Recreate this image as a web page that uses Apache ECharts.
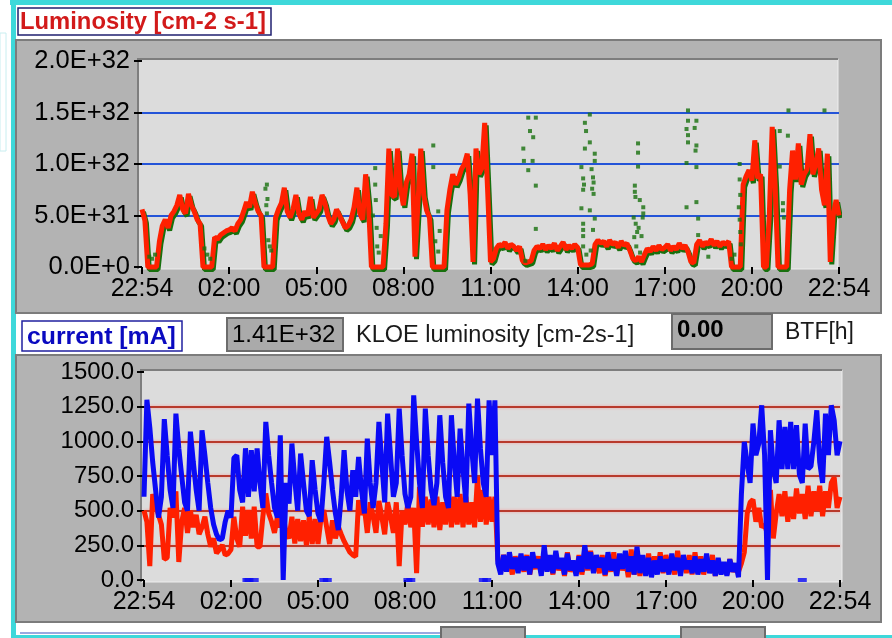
<!DOCTYPE html>
<html>
<head>
<meta charset="utf-8">
<script src="https://cdn.jsdelivr.net/npm/echarts@6/dist/echarts.min.js"></script>
<style>
html,body{margin:0;padding:0;background:#fff;}
#c{width:892px;height:638px;}
</style>
</head>
<body>
<div id="c"></div>
<script>
// ---------------- DATA ----------------
// time axis: hours elapsed since 22:54, sampled every 0.1 h (241 samples)
const timeLabels = ['22:54','02:00','05:00','08:00','11:00','14:00','17:00','20:00','22:54'];
const lumTickLabels = ['0.0E+0','5.0E+31','1.0E+32','1.5E+32','2.0E+32'];
const curTickLabels = ['0.0','250.0','500.0','750.0','1000.0','1250.0','1500.0'];

// DAFNE luminosity, units of 1E31 cm-2 s-1
const lumE31 = [
 5.6,4.5,0,0,0,0,2.5,4.0,4.6,3.8,
 5.0,5.4,6.0,7.0,5.6,5.2,7.1,6.0,5.4,4.6,
 4.2,0,0,0,0,2.9,2.7,3.1,3.3,3.5,
 3.6,3.8,3.5,4.2,4.6,5.4,6.3,5.8,7.3,6.2,
 5.4,5.0,0,0,0,0,4.8,5.6,6.2,7.7,
 5.4,4.8,5.6,7.0,5.2,4.6,5.4,5.0,6.8,4.8,
 5.2,5.6,7.0,6.2,5.0,4.2,4.6,5.6,5.0,4.4,
 3.8,4.0,4.6,5.8,7.7,5.2,4.6,9.0,6.0,0,
 0,0,0,0,4.2,11.5,7.0,6.8,11.5,7.6,
 6.0,8.2,9.0,11.0,1.0,6.0,11.5,7.0,5.5,4.8,
 0,0,0,0,0,5.5,7.5,9.0,8.0,8.6,
 9.5,10.0,11.0,7.0,0.5,11.5,9.0,9.6,14.0,7.5,
 0.5,0.8,1.8,2.2,2.0,2.4,1.8,2.2,2.0,1.6,
 2.0,0.6,0.4,0.5,0.6,1.6,2.0,1.8,2.2,1.7,
 2.1,1.8,2.3,1.6,2.0,2.4,1.7,2.1,1.8,2.2,
 1.9,0.2,0.2,0.2,0.2,0.3,2.2,2.6,2.3,2.5,
 2.0,2.6,2.2,2.4,1.9,2.5,2.1,2.3,1.6,0.8,
 0.6,1.0,0.5,1.2,1.8,1.5,2.0,1.6,2.1,1.7,
 1.9,2.2,1.6,2.0,1.7,2.3,1.8,2.1,1.5,0.5,
 0.4,2.2,2.6,2.0,2.4,2.2,2.7,2.1,2.5,2.0,
 2.4,2.2,2.5,0,0,0,0,8.0,8.8,9.4,
 8.4,12.3,8.6,9.0,0,0,5.0,13.6,8.0,0,
 0,0,0,7.5,11.3,8.5,12.0,8.0,9.0,9.5,
 12.9,9.0,10.0,11.5,7.5,6.0,11.0,0.5,5.0,6.5,
 5.0
];

// KLOE luminosity readings that stand apart from the DAFNE trace [hour, 1E31]
const kloeOutliers = [
 [0.25,1.0],[0.35,0.8],[0.45,1.2],[2.15,1.8],[2.25,1.2],[2.35,0.8],
 [4.25,7.6],[4.3,8.0],[4.28,6.0],[4.3,5.2],[4.32,6.6],[4.35,2.6],[4.4,2.0],[4.45,1.6],
 [7.95,5.0],[8.03,9.6],[8.03,8.0],[8.05,6.5],[8.08,3.8],[8.1,2.0],[8.15,1.4],[8.22,3.0],
 [10.03,11.8],[10.03,9.7],[10.1,2.5],[10.2,1.5],[10.2,5.4],[10.25,3.5],
 [13.3,14.5],[13.56,14.5],[13.36,13.2],[13.47,12.6],[13.13,11.5],[13.15,10.3],[13.45,10.3],
 [13.3,9.4],[13.56,7.9],[13.56,3.7],[13.2,0.6],
 [15.42,14.8],[15.25,14.0],[15.29,13.2],[15.42,12.1],[15.25,11.5],[15.59,11.0],[15.59,10.3],
 [15.13,9.7],[15.48,9.5],[15.19,8.6],[15.22,8.0],[15.19,7.5],[15.53,8.7],[15.55,8.2],
 [15.5,7.6],[15.55,7.1],[15.13,5.7],[15.42,5.5],[15.59,4.7],[15.19,4.2],[15.19,3.6],
 [15.19,3.0],[15.53,3.6],[15.19,2.0],[15.3,1.2],[15.45,1.6],
 [17.08,12.0],[17.08,11.1],[17.08,9.75],[16.97,7.9],[16.97,7.3],[16.99,6.8],[17.14,6.5],
 [17.26,5.8],[17.26,5.2],[17.24,4.8],[16.93,4.8],[17.0,4.2],[17.1,3.8],[17.05,3.4],
 [17.2,3.0],[16.95,2.9],[17.02,2.0],[17.15,1.4],
 [18.8,15.2],[18.8,14.2],[19.09,14.2],[18.75,13.4],[19.03,13.5],[18.8,12.8],[18.8,12.1],
 [19.09,11.8],[19.06,11.3],[18.75,10.1],[19.09,9.7],[18.75,5.8],[19.09,6.3],[19.15,4.7],[19.15,3.1],
 [19.5,1.0],[20.3,0.8],[20.4,1.2],
 [20.58,10.0],[20.58,8.5],[20.6,7.0],[20.55,5.8],[20.58,4.6],[20.6,3.4],[20.62,2.2],
 [21.96,13.2],[22.24,12.75],[21.96,9.75],[22.07,6.2],[22.07,5.5],[22.1,4.8],
 [22.26,15.2],[23.5,15.2]
];

// beam currents, mA
const blueCur = [
 600,1300,1100,850,650,450,600,1160,900,650,
 520,1200,950,750,560,500,1070,850,650,500,
 1080,900,700,520,400,330,290,300,420,500,
 450,880,900,650,560,950,600,936,640,948,
 700,520,1140,900,700,520,450,1044,0,700,
 550,984,720,500,912,700,500,460,864,650,
 480,420,700,1032,850,650,480,360,600,936,
 640,500,792,600,888,650,480,1020,700,520,
 700,1140,850,560,1200,900,600,700,1236,900,
 620,520,600,1332,1000,700,520,1236,900,650,
 540,700,1188,850,600,520,1188,850,600,1092,
 800,560,1272,950,700,1308,950,700,600,1296,
 900,1296,120,40,180,60,200,80,160,50,
 190,70,170,40,200,90,150,30,250,60,
 180,50,210,80,160,40,190,70,140,30,
 170,60,250,80,200,50,180,90,160,40,
 200,70,150,30,190,80,210,60,170,40,
 240,50,180,30,160,20,140,40,170,60,
 150,40,190,70,160,30,180,80,140,50,
 170,40,150,60,190,50,140,30,160,40,
 130,30,150,60,120,20,620,996,840,700,
 1128,900,984,1260,900,0,1080,800,700,1152,
 800,1104,800,1140,800,1116,760,700,1128,800,
 820,1000,1224,850,700,1200,900,1260,1150,900,
 1000
];
const redCur = [
 500,420,100,620,540,470,400,150,160,520,
 450,640,130,420,520,340,500,380,470,330,
 380,456,330,240,300,192,220,252,180,190,
 220,456,300,240,528,320,504,300,528,240,
 240,460,624,480,420,340,456,380,460,340,
 300,456,264,440,280,430,250,460,260,440,
 260,440,504,380,260,430,300,384,330,280,
 240,200,180,168,576,470,520,340,560,460,
 340,570,456,330,560,460,340,560,100,500,
 400,560,380,520,50,672,384,600,400,580,
 380,600,360,560,400,640,380,600,400,620,
 380,600,400,560,380,744,420,650,400,600,
 420,600,150,60,180,80,140,40,170,90,
 150,60,180,40,140,80,170,50,200,70,
 160,40,190,70,150,30,200,60,130,50,
 180,40,160,70,210,60,140,50,180,30,
 140,60,200,40,170,70,150,20,220,40,
 160,30,150,60,190,40,170,60,200,50,
 180,60,150,40,210,70,160,50,180,40,
 200,50,170,40,150,60,180,30,140,60,
 120,40,150,60,100,60,120,200,480,560,
 580,420,520,380,400,330,650,300,480,620,
 460,640,420,600,440,660,480,620,440,680,
 460,640,500,680,460,640,520,700,740,520,
 600
];
// isolated zero readings of the blue beam [hour, mA]
const blueZero = [[3.55,0],[3.62,0],[3.8,0],[6.2,0],[6.32,0],[9.1,0],[9.2,0],[11.7,0],[11.82,0],[22.7,0]];

const kloeValue = '1.41E+32';
const btfValue = '0.00';

// ---------------- BUILD ----------------
const step = 0.1;
const pairs = arr => arr.map((v,i) => [Math.round(i*step*10)/10, v]);

const FONT = "'Liberation Sans', Arial, Helvetica, sans-serif";
const RED = '#ff2000', BLUE = '#0a0af5', GREEN = '#18700e';

function xAxis(gridIndex){
  return {
    type:'value', gridIndex, min:0, max:24, interval:3,
    offset:3,
    axisLine:{show:false},
    axisTick:{show:true, length:7, lineStyle:{color:'#000', width:2}},
    splitLine:{show:false},
    axisLabel:{margin:7, color:'#000', fontSize:25, fontFamily:FONT,
      formatter: v => timeLabels[Math.round(v/3)]}
  };
}

const chart = echarts.init(document.getElementById('c'), null, {renderer:'canvas'});
const option = {
  animation:false,
  backgroundColor:'#ffffff',
  grid:[
    {left:142, top:61, width:697, height:206},
    {left:144, top:372, width:696, height:208}
  ],
  xAxis:[xAxis(0), xAxis(1)],
  yAxis:[
    {type:'value', gridIndex:0, min:0, max:20, interval:5, offset:4,
     axisLine:{show:false},
     axisTick:{show:true, length:8, lineStyle:{color:'#000', width:2}},
     axisLabel:{margin:8, color:'#000', fontSize:25.5, fontFamily:FONT,
       formatter: v => lumTickLabels[Math.round(v/5)]},
     splitLine:{show:true, lineStyle:{width:2,
       color:['rgba(0,0,0,0)','#2454d8','#2454d8','#2454d8','rgba(0,0,0,0)']}}},
    {type:'value', gridIndex:1, min:0, max:1500, interval:250, offset:3,
     axisLine:{show:false},
     axisTick:{show:true, length:7, lineStyle:{color:'#000', width:2}},
     axisLabel:{margin:7, color:'#000', fontSize:24, fontFamily:FONT,
       formatter: v => curTickLabels[Math.round(v/250)]},
     splitLine:{show:true, lineStyle:{width:2,
       color:['rgba(0,0,0,0)','#b83a2c','#b83a2c','#b83a2c','#b83a2c','#b83a2c','rgba(0,0,0,0)'],
       shadowColor:'#f4a0a0', shadowBlur:3}}}
  ],
  series:[
    {type:'line', xAxisIndex:0, yAxisIndex:0, data:pairs(lumE31), symbol:'none', clip:false,
     lineStyle:{color:RED, width:5, shadowColor:GREEN, shadowBlur:0, shadowOffsetX:1.5, shadowOffsetY:2.5},
     z:3},
    {type:'scatter', xAxisIndex:0, yAxisIndex:0, data:kloeOutliers, symbol:'rect', symbolSize:4,
     itemStyle:{color:GREEN}, z:4},
    {type:'line', xAxisIndex:1, yAxisIndex:1, data:pairs(redCur), symbol:'none', clip:false,
     lineStyle:{color:RED, width:5}, z:3},
    {type:'line', xAxisIndex:1, yAxisIndex:1, data:pairs(blueCur), symbol:'none', clip:false,
     lineStyle:{color:BLUE, width:5}, z:4},
    {type:'scatter', xAxisIndex:1, yAxisIndex:1, data:blueZero, symbol:'rect', symbolSize:[9,4],
     itemStyle:{color:BLUE}, z:4}
  ],
  graphic:{elements:[
    // cyan frame
    {type:'rect', z:-30, shape:{x:10,y:0,width:882,height:5}, style:{fill:'#3ed8da'}},
    {type:'rect', z:-30, shape:{x:11,y:0,width:5,height:638}, style:{fill:'#3ed8da'}},
    {type:'rect', z:-30, shape:{x:11,y:635,width:881,height:3}, style:{fill:'#3ed8da'}},
    {type:'rect', z:-30, shape:{x:0,y:33,width:6,height:118}, style:{fill:'none', stroke:'#c8eef0', lineWidth:1}},
    // panels
    {type:'rect', z:-25, shape:{x:16,y:40,width:865,height:273}, style:{fill:'#b3b3b3', stroke:'#7c7c7c', lineWidth:2}},
    {type:'rect', z:-25, shape:{x:16,y:355,width:865,height:267}, style:{fill:'#b3b3b3', stroke:'#7c7c7c', lineWidth:2}},
    // plot areas
    {type:'rect', z:-20, shape:{x:138,y:59,width:700,height:210}, style:{fill:'#dcdcdc', stroke:'#eeeeee', lineWidth:1}},
    {type:'polyline', z:-19, shape:{points:[[138,269],[138,59],[838,59]]}, style:{stroke:'#7e7e7e', lineWidth:2, fill:null}},
    {type:'rect', z:-20, shape:{x:141,y:370,width:701,height:212}, style:{fill:'#dcdcdc', stroke:'#eeeeee', lineWidth:1}},
    {type:'polyline', z:-19, shape:{points:[[141,582],[141,370],[842,370]]}, style:{stroke:'#7e7e7e', lineWidth:2, fill:null}},
    // title boxes
    {type:'rect', z:50, shape:{x:18,y:8,width:253,height:27}, style:{fill:'#ffffff', stroke:'#202070', lineWidth:1.5}},
    {type:'text', z:51, style:{x:20, y:22, text:'Luminosity [cm-2 s-1]', fill:'#d21a1a',
      font:"bold 23.8px "+FONT, textVerticalAlign:'middle', verticalAlign:'middle'}},
    {type:'rect', z:50, shape:{x:22,y:321,width:160,height:30}, style:{fill:'#ffffff', stroke:'#2020a0', lineWidth:1.5}},
    {type:'text', z:51, style:{x:27, y:337, text:'current [mA]', fill:'#0a0ac0',
      font:"bold 24.8px "+FONT, textVerticalAlign:'middle', verticalAlign:'middle'}},
    // indicators
    {type:'rect', z:50, shape:{x:227,y:318,width:116,height:33}, style:{fill:'#aaaaaa', stroke:'#6c6c6c', lineWidth:2}},
    {type:'text', z:51, style:{x:232, y:335, text:kloeValue, fill:'#000',
      font:"24px "+FONT, textVerticalAlign:'middle', verticalAlign:'middle'}},
    {type:'text', z:51, style:{x:356, y:336, text:'KLOE luminosity [cm-2s-1]', fill:'#1a1a1a',
      font:"23.5px "+FONT, textVerticalAlign:'middle', verticalAlign:'middle'}},
    {type:'rect', z:50, shape:{x:672,y:314,width:100,height:35}, style:{fill:'#aaaaaa', stroke:'#6c6c6c', lineWidth:2}},
    {type:'text', z:51, style:{x:677, y:330, text:btfValue, fill:'#000',
      font:"bold 24px "+FONT, textVerticalAlign:'middle', verticalAlign:'middle'}},
    {type:'text', z:51, style:{x:785, y:333, text:'BTF[h]', fill:'#1a1a1a',
      font:"23px "+FONT, textVerticalAlign:'middle', verticalAlign:'middle'}},
    // cut-off widgets along the bottom edge
    {type:'line', z:-24, shape:{x1:20,y1:633,x2:440,y2:633}, style:{stroke:'#9aa8e0', lineWidth:2}},
    {type:'rect', z:-24, shape:{x:441,y:627,width:84,height:14}, style:{fill:'#aaaaaa', stroke:'#6c6c6c', lineWidth:2}},
    {type:'rect', z:-24, shape:{x:681,y:627,width:84,height:14}, style:{fill:'#aaaaaa', stroke:'#6c6c6c', lineWidth:2}}
  ]}
};
chart.setOption(option);
</script>
</body>
</html>
